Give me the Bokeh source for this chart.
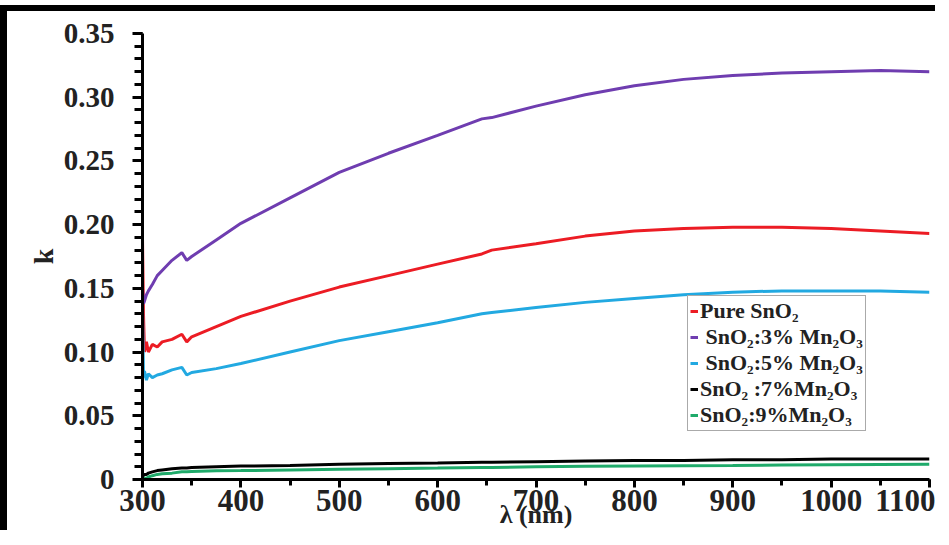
from bokeh.plotting import figure
from bokeh.models import Range1d, FixedTicker, Legend, LegendItem
from bokeh.embed import file_html
from bokeh.resources import INLINE

wavelength = [300, 301, 302, 304, 306, 310, 315, 320, 330, 340, 345, 350, 375, 400, 450,
              500, 550, 600, 645, 655, 700, 750, 800, 850, 900, 950, 1000, 1050, 1100]

k_pure = [0.190, 0.130, 0.100, 0.108, 0.100, 0.106, 0.104, 0.108, 0.110, 0.114, 0.108, 0.112,
          0.120, 0.128, 0.140, 0.151, 0.160, 0.169, 0.177, 0.180, 0.185, 0.191, 0.195, 0.197,
          0.198, 0.198, 0.197, 0.195, 0.193]
k_3 = [0.150, 0.138, 0.140, 0.145, 0.148, 0.153, 0.160, 0.164, 0.172, 0.178, 0.172, 0.175,
       0.188, 0.201, 0.221, 0.241, 0.256, 0.270, 0.283, 0.284, 0.293, 0.302, 0.309, 0.314,
       0.317, 0.319, 0.320, 0.321, 0.320]
k_5 = [0.140, 0.080, 0.085, 0.078, 0.083, 0.080, 0.082, 0.083, 0.086, 0.088, 0.082, 0.084,
       0.087, 0.091, 0.100, 0.109, 0.116, 0.123, 0.130, 0.131, 0.135, 0.139, 0.142, 0.145,
       0.147, 0.148, 0.148, 0.148, 0.147]
k_7 = [0.003, 0.003, 0.004, 0.004, 0.005, 0.006, 0.007, 0.0075, 0.0085, 0.009, 0.009, 0.0095,
       0.010, 0.0105, 0.011, 0.012, 0.0125, 0.013, 0.0135, 0.0135, 0.014, 0.0145, 0.015, 0.015,
       0.0155, 0.0155, 0.016, 0.016, 0.016]
k_9 = [0.001, 0.000, 0.001, 0.001, 0.002, 0.003, 0.004, 0.0045, 0.005, 0.006, 0.006, 0.0062,
       0.0068, 0.007, 0.0075, 0.008, 0.0085, 0.009, 0.0095, 0.0095, 0.010, 0.0103, 0.0106, 0.0108,
       0.011, 0.0113, 0.0116, 0.0118, 0.012]

labels = ["Pure SnO\u2082", " SnO\u2082:3% Mn\u2082O\u2083", " SnO\u2082:5% Mn\u2082O\u2083",
          "SnO\u2082 :7%Mn\u2082O\u2083", "SnO\u2082:9%Mn\u2082O\u2083"]
colors = ["#ec1c24", "#6f3db0", "#22a9e1", "#000000", "#1faa6a"]

x_ticks = [300, 400, 500, 600, 700, 800, 900, 1000, 1100]
y_ticks = [0, 0.05, 0.10, 0.15, 0.20, 0.25, 0.30, 0.35]
y_tick_labels = ["0", "0.05", "0.10", "0.15", "0.20", "0.25", "0.30", "0.35"]

FONT = "Liberation Serif"

p = figure(width=935, height=525, output_backend="svg", toolbar_location=None,
           x_range=Range1d(300, 1100), y_range=Range1d(0, 0.35),
           min_border_left=135, min_border_right=13, min_border_top=22, min_border_bottom=57)
p.styles = {"border-top": "6px solid black", "border-left": "7px solid black",
            "position": "relative", "top": "5px"}
p.outline_line_color = None
p.grid.grid_line_color = None
p.background_fill_color = "white"
p.border_fill_color = "white"

series = [k_pure, k_3, k_5, k_7, k_9]
renderers = []
for ys, c in zip(series, colors):
    r = p.line(wavelength, ys, line_color=c, line_width=3)
    renderers.append(r)

p.xaxis.ticker = FixedTicker(ticks=x_ticks, minor_ticks=list(range(300, 1101, 50)))
p.yaxis.ticker = FixedTicker(ticks=y_ticks, minor_ticks=[i / 100 for i in range(0, 36)])
p.yaxis.major_label_overrides = {t: s for t, s in zip(y_ticks, y_tick_labels)}

for ax in (p.xaxis[0], p.yaxis[0]):
    ax.axis_line_width = 3
    ax.axis_line_color = "black"
    ax.major_tick_line_width = 3
    ax.minor_tick_line_width = 3
    ax.major_tick_in = 0
    ax.minor_tick_in = 0
    ax.major_label_text_font = FONT
    ax.major_label_text_font_style = "bold"
    ax.major_label_text_color = "#222222"
    ax.axis_label_text_font = FONT
    ax.axis_label_text_font_style = "bold"
    ax.axis_label_text_color = "#222222"

p.xaxis.major_tick_out = 8
p.xaxis.minor_tick_out = 6
p.yaxis.major_tick_out = 10
p.yaxis.minor_tick_out = 8
p.xaxis.major_label_text_font_size = "31px"
p.yaxis.major_label_text_font_size = "29px"
p.xaxis.major_label_standoff = 2
p.yaxis.major_label_standoff = 18
p.xaxis.axis_label = "\u03bb (nm)"
p.xaxis.axis_label_text_font_size = "26px"
p.xaxis.axis_label_standoff = -14
p.yaxis.axis_label = "k"
p.yaxis.axis_label_text_font_size = "28px"
p.yaxis.axis_label_standoff = 2

legend = Legend(items=[LegendItem(label=l, renderers=[r]) for l, r in zip(labels, renderers)],
                location=(545, 48))
legend.label_text_font = FONT
legend.label_text_font_style = "bold"
legend.label_text_font_size = "22px"
legend.label_text_color = "#222222"
legend.label_height = 18
legend.glyph_height = 18
legend.glyph_width = 8
legend.label_standoff = 2
legend.spacing = 0
legend.padding = 2
legend.margin = 0
legend.border_line_color = "#555555"
legend.border_line_width = 1
legend.background_fill_alpha = 1
p.add_layout(legend, "center")

open("out.html", "w").write(file_html(p, INLINE))
